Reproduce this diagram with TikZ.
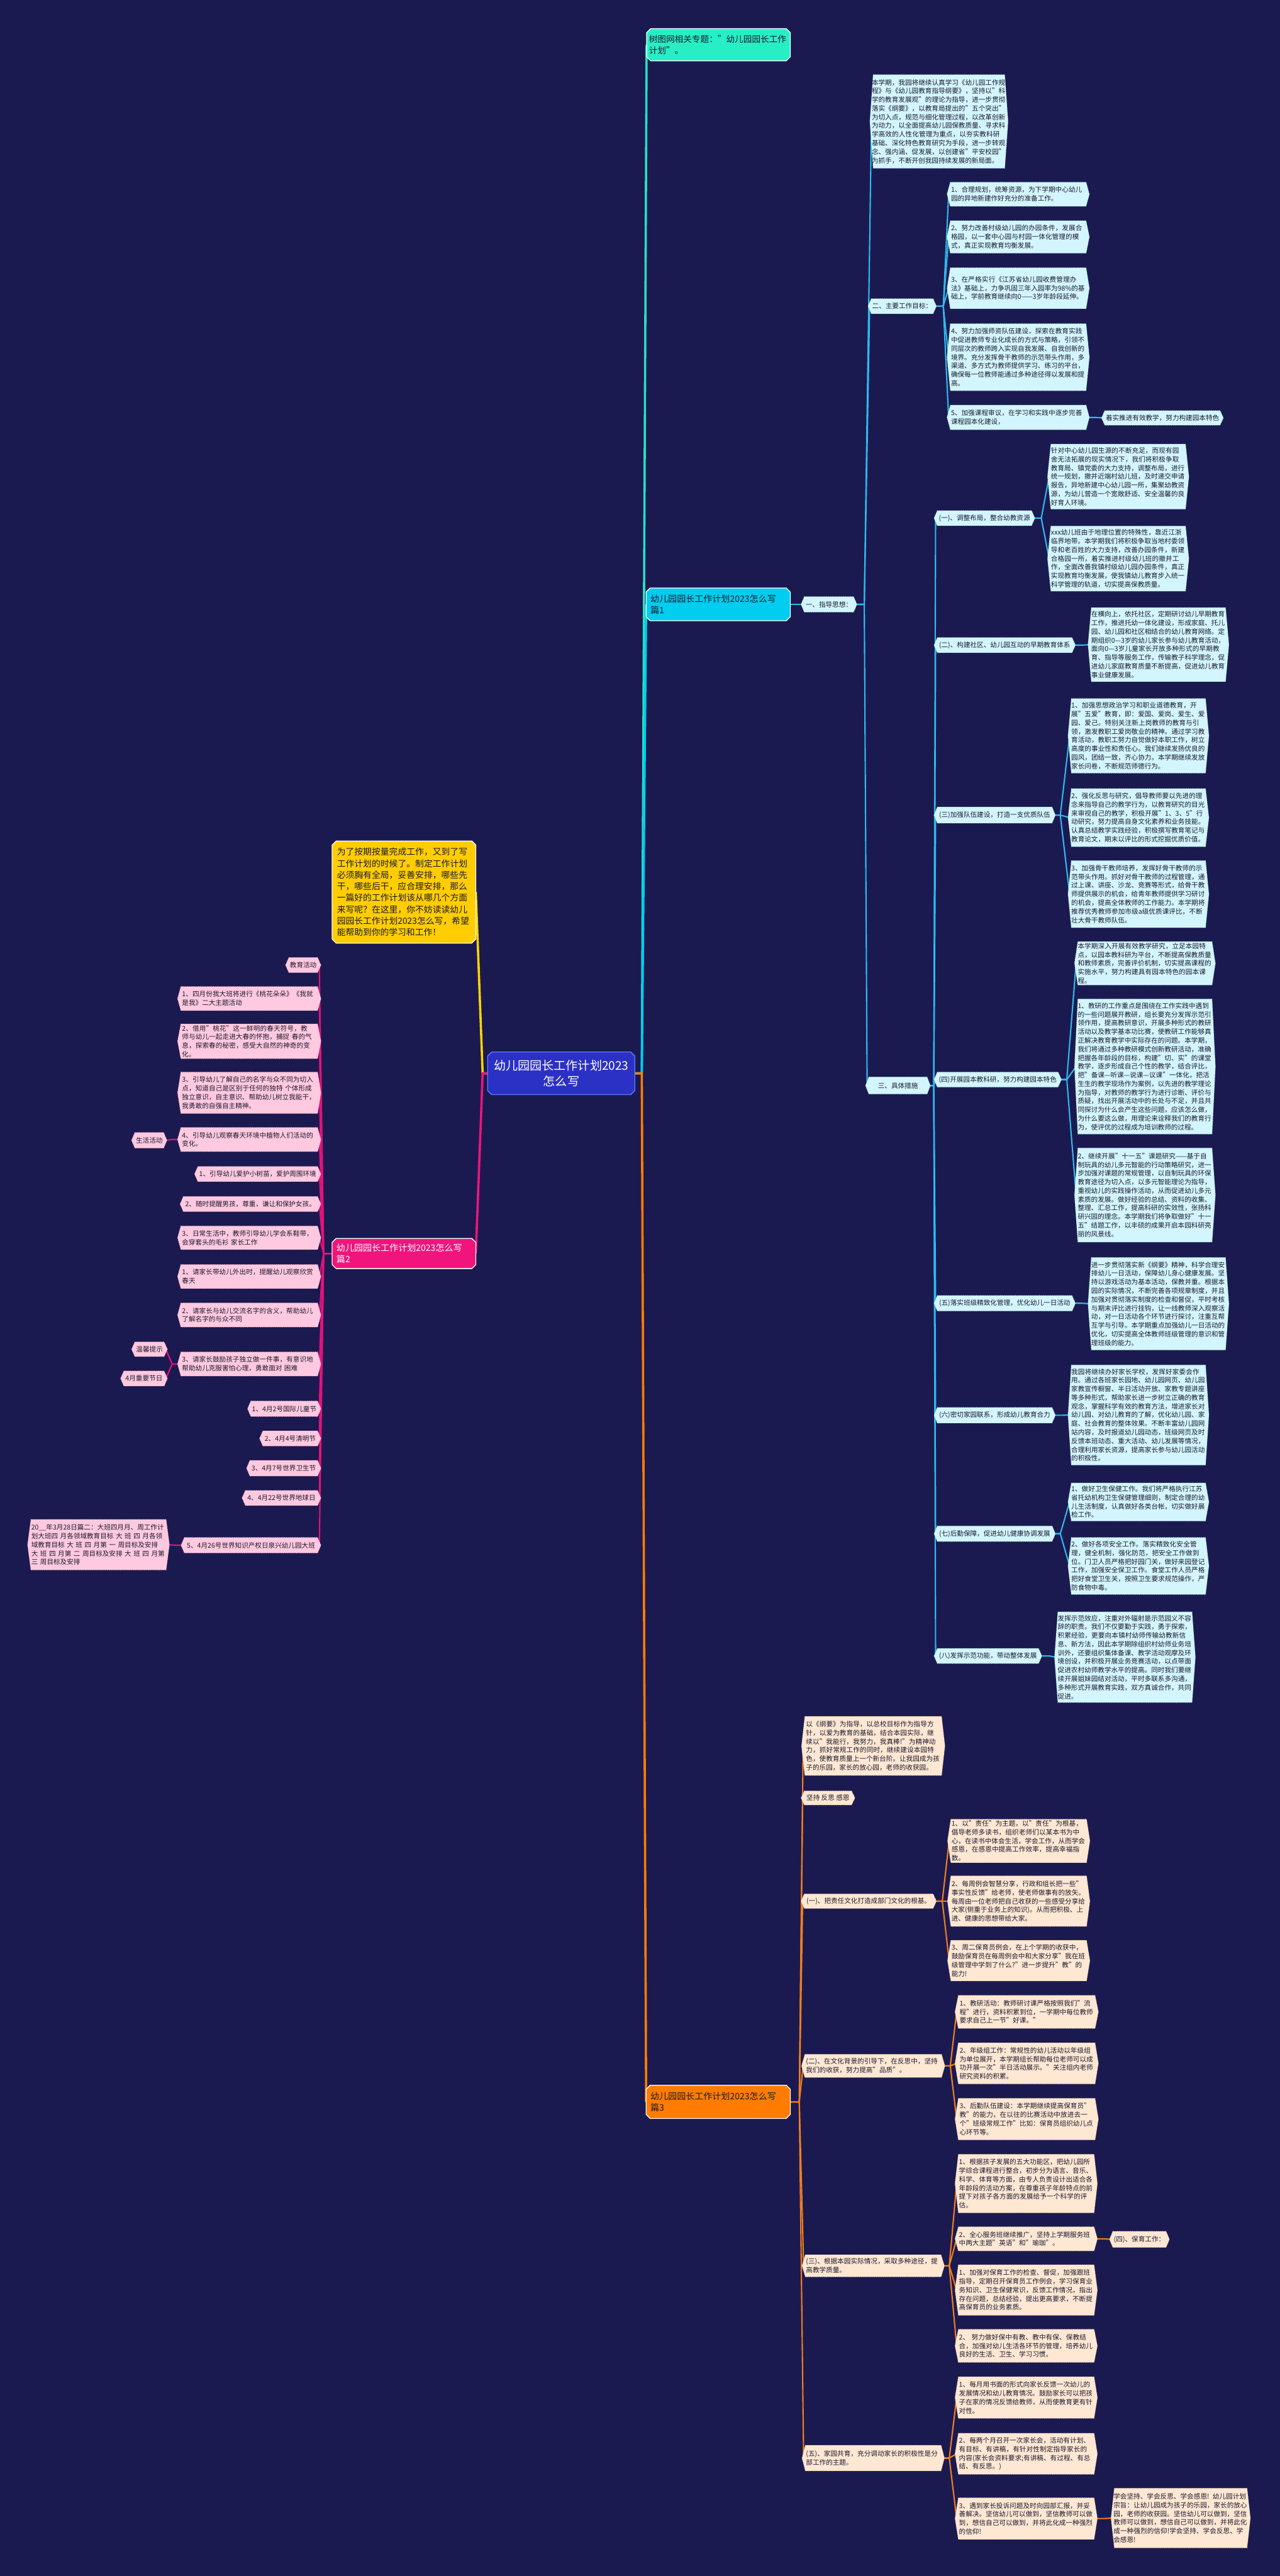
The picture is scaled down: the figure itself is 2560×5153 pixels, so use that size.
\documentclass[tikz,border=0pt]{standalone}
\usepackage{fontspec}
\setmainfont{Noto Sans CJK SC}
\XeTeXlinebreaklocale "zh"
\XeTeXlinebreakskip = 0pt plus 0.1pt
\usetikzlibrary{calc}
\pgfdeclarelayer{back}
\pgfdeclarelayer{lines}
\pgfdeclarelayer{boxes}
\pgfsetlayers{back,lines,boxes,main}
\definecolor{bgc}{HTML}{1B1A50}
\definecolor{ink}{HTML}{1A1A2E}
\definecolor{ctrfill}{HTML}{2B31C4}
\definecolor{ctredge}{HTML}{5A7BFF}
\definecolor{topfill}{HTML}{27EFC5}
\definecolor{bonefill}{HTML}{00CDEF}
\definecolor{yelfill}{HTML}{FFCD00}
\definecolor{btwofill}{HTML}{F0147C}
\definecolor{bthreefill}{HTML}{FF7C00}
\definecolor{cyfill}{HTML}{D3F5FD}
\definecolor{cyedge}{HTML}{8FCFE0}
\definecolor{pkfill}{HTML}{FFC9DF}
\definecolor{pkedge}{HTML}{E89BBB}
\definecolor{ogfill}{HTML}{FEE7D3}
\definecolor{ogedge}{HTML}{E3B48E}
\definecolor{cyln}{HTML}{2DB9EE}
\definecolor{pkln}{HTML}{E3117D}
\definecolor{ogln}{HTML}{F07D1F}
\definecolor{topln}{HTML}{27E0C0}
\definecolor{yelln}{HTML}{FFD400}
\newcommand\fs{\fontsize{4pt}{5.2pt}\selectfont}
\tikzset{
 kbase/.style={inner xsep=0pt, inner ysep=0.6pt, font=\fs, text=ink},
 kcy/.style={kbase}, kcy bg/.style={fill=cyfill, draw=cyedge, line width=0.3pt, densely dotted},
 kpk/.style={kbase}, kpk bg/.style={fill=pkfill, draw=pkedge, line width=0.3pt, densely dotted},
 kog/.style={kbase}, kog bg/.style={fill=ogfill, draw=ogedge, line width=0.3pt, densely dotted},
 kc/.style={inner ysep=0pt, font=\fontsize{7.2pt}{9.5pt}\selectfont, text=white, align=center},
 kc bg/.style={fill=ctrfill, draw=ctredge, line width=0.5pt},
 kt/.style={inner ysep=0pt, font=\fontsize{5.15pt}{6.8pt}\selectfont, text=ink, align=left},
 kt bg/.style={fill=topfill, draw=white, line width=0.5pt},
 ky/.style={inner ysep=0pt, font=\fontsize{5.2pt}{6.9pt}\selectfont, text=ink, align=left},
 ky bg/.style={fill=yelfill, draw=white, line width=0.5pt},
 k1/.style={inner ysep=0pt, font=\fontsize{5.3pt}{6.8pt}\selectfont, text=ink, align=left},
 k1 bg/.style={fill=bonefill, draw=white, line width=0.5pt},
 k2/.style={inner ysep=0pt, font=\fontsize{5.3pt}{6.8pt}\selectfont, text=white, align=left},
 k2 bg/.style={fill=btwofill, draw=white, line width=0.5pt},
 k3/.style={inner ysep=0pt, font=\fontsize{5.3pt}{6.8pt}\selectfont, text=ink, align=left},
 k3 bg/.style={fill=bthreefill, draw=white, line width=0.5pt},
 mainln/.style={line width=1.35pt},
 subln/.style={line width=0.8pt},
}
% octagon main node: name, kind, x1, y1, x2, y2, pad(pt), text
\newcommand\obx[8]{%
 \pgfmathsetmacro\bxw{(#5-#3)*0.3}%
 \pgfmathsetmacro\bxh{(#6-#4)*0.3}%
 \pgfmathsetmacro\bxt{(#5-#3)*0.3-2*#7}%
 \node[#2, inner xsep=#7pt, minimum width=\bxw pt, minimum height=\bxh pt, text width=\bxt pt] (#1) at ({(#3+#5)/2},{(#4+#6)/2}) {#8};%
 \begin{pgfonlayer}{boxes}%
 \path[#2 bg] ([xshift=2.4pt]#1.north west) -- ([xshift=-2.4pt]#1.north east) -- ([yshift=-2.4pt]#1.north east) -- ([yshift=2.4pt]#1.south east) -- ([xshift=-2.4pt]#1.south east) -- ([xshift=2.4pt]#1.south west) -- ([yshift=2.4pt]#1.south west) -- ([yshift=-2.4pt]#1.north west) -- cycle;%
 \end{pgfonlayer}%
}
% hexagon text block: name, kind, x1, y1, x2, y2, text
\newcommand\hbx[7]{%
 \pgfmathsetmacro\bxw{(#5-#3)*0.3}%
 \pgfmathsetmacro\bxh{(#6-#4)*0.3}%
 \node[#2, align=left, minimum width=\bxw pt, minimum height=\bxh pt, text width=80.6pt] (#1) at ({(#3+#5)/2},{(#4+#6)/2}) {#7};%
 \begin{pgfonlayer}{boxes}%
 \path[#2 bg] ([xshift=1pt]#1.north west) -- ([xshift=-1pt]#1.north east) -- ([xshift=1pt]#1.east) -- ([xshift=-1pt]#1.south east) -- ([xshift=1pt]#1.south west) -- ([xshift=-1pt]#1.west) -- cycle;%
 \end{pgfonlayer}%
}
% hexagon single line label
\newcommand\sbx[7]{%
 \pgfmathsetmacro\bxw{(#5-#3)*0.3}%
 \pgfmathsetmacro\bxh{(#6-#4)*0.3}%
 \node[#2, inner xsep=1.2pt, align=center, minimum width=\bxw pt, minimum height=\bxh pt] (#1) at ({(#3+#5)/2},{(#4+#6)/2}) {#7};%
 \begin{pgfonlayer}{boxes}%
 \path[#2 bg] ([xshift=1pt]#1.north west) -- ([xshift=-1pt]#1.north east) -- ([xshift=1pt]#1.east) -- ([xshift=-1pt]#1.south east) -- ([xshift=1pt]#1.south west) -- ([xshift=-1pt]#1.west) -- cycle;%
 \end{pgfonlayer}%
}
\newcommand\cR[4]{\draw[#4] (#1.east) -- ++(#3,0) -- (#2.west);}
\newcommand\cL[4]{\draw[#4] (#1.west) -- ++(-#3,0) -- (#2.east);}
\begin{document}
\begin{tikzpicture}[x=0.3pt,y=-0.3pt,line join=round,line cap=round]
\begin{pgfonlayer}{back}
\fill[bgc] (0,0) rectangle (2560,5153);
\end{pgfonlayer}
\useasboundingbox (0,0) rectangle (2560,5153);

% ---------- main nodes ----------
\obx{C}{kc}{976}{2105}{1269}{2189}{1}{幼儿园园长工作计划2023\\怎么写}
\obx{T}{kt}{1294}{58}{1580}{121}{1.2}{\mbox{树图网相关专题："幼儿园园长工作}\\计划"。}
\obx{Y}{ky}{665}{1683}{951}{1886}{2.7}{为了按期按量完成工作，又到了写工作计划的时候了。制定工作计划必须胸有全局，妥善安排，哪些先干，哪些后干，应合理安排，那么一篇好的工作计划该从哪几个方面来写呢？在这里，你不妨读读幼儿园园长工作计划2023怎么写，希望能帮助到你的学习和工作！}
\obx{B1}{k1}{1293}{1177}{1580}{1241}{2.4}{幼儿园园长工作计划2023怎么写\\篇1}
\obx{B2}{k2}{665}{2478}{951}{2537}{2.4}{幼儿园园长工作计划2023怎么写\\篇2}
\obx{B3}{k3}{1293}{4172}{1580}{4237}{2.4}{幼儿园园长工作计划2023怎么写\\篇3}

% ---------- branch 1 ----------
\sbx{G1}{kcy}{1606}{1194}{1710}{1224}{一、指导思想：}
\hbx{G1a}{kcy}{1744}{150}{2012}{336}{本学期，我园将继续认真学习《幼儿园工作规程》与《幼儿园教育指导纲要》，坚持以"科学的教育发展观"的理论为指导，进一步贯彻落实《纲要》，以教育局提出的"五个突出"为切入点，规范与细化管理过程，以改革创新为动力，以全面提高幼儿园保教质量、寻求科学高效的人性化管理为重点，以夯实教科研基础、深化特色教育研究为手段，进一步转观念、强内涵、促发展，以创建省"平安校园"为抓手，不断开创我园持续发展的新局面。}
\sbx{G2}{kcy}{1740}{598}{1869}{627}{二、主要工作目标：}
\hbx{G21}{kcy}{1898}{365}{2175}{412}{1、合理规划，统筹资源，为下学期中心幼儿园的异地新建作好充分的准备工作。}
\hbx{G22}{kcy}{1898}{442}{2175}{506}{2、努力改善村级幼儿园的办园条件，发展合格园，以一套中心园与村园一体化管理的模式，真正实现教育均衡发展。}
\hbx{G23}{kcy}{1898}{536}{2175}{617}{3、在严格实行《江苏省幼儿园收费管理办法》基础上，力争巩固三年入园率为98\%的基础上，学前教育继续向0——3岁年龄段延伸。}
\hbx{G24}{kcy}{1898}{648}{2175}{781}{4、努力加强师资队伍建设，探索在教育实践中促进教师专业化成长的方式与策略，引领不同层次的教师跨入实现自我发展、自我创新的境界。充分发挥骨干教师的示范带头作用，多渠道、多方式为教师提供学习、练习的平台，确保每一位教师能通过多种途径得以发展和提高。}
\hbx{G25}{kcy}{1898}{811}{2175}{859}{5、加强课程审议，在学习和实践中逐步完善课程园本化建设，}
\sbx{G25a}{kcy}{2207}{822}{2443}{850}{着实推进有效教学，努力构建园本特色}
\sbx{G3}{kcy}{1735}{2155}{1857}{2188}{三、具体措施}

\sbx{S1}{kcy}{1872}{1022}{2066}{1051}{(一)、调整布局，整合幼教资源}
\hbx{S1a}{kcy}{2099}{889}{2374}{1018}{针对中心幼儿园生源的不断充足，而现有园舍无法拓展的现实情况下，我们将积极争取教育局、镇党委的大力支持，调整布局，进行统一规划，撤并近端村幼儿班，及时递交申请报告，异地新建中心幼儿园一所，集聚幼教资源，为幼儿营造一个宽敞舒适、安全温馨的良好育人环境。}
\hbx{S1b}{kcy}{2099}{1053}{2374}{1182}{xxx幼儿班由于地理位置的特殊性，靠近江浙临界地带。本学期我们将积极争取当地村委领导和老百姓的大力支持，改善办园条件，新建合格园一所，着实推进村级幼儿班的撤并工作，全面改善我镇村级幼儿园办园条件，真正实现教育均衡发展，使我镇幼儿教育步入统一科学管理的轨道，切实提高保教质量。}
\sbx{S2}{kcy}{1872}{1276}{2147}{1305}{(二)、构建社区、幼儿园互动的早期教育体系}
\hbx{S2a}{kcy}{2180}{1216}{2454}{1363}{在横向上，依托社区，定期研讨幼儿早期教育工作，推进托幼一体化建设，形成家庭、托儿园、幼儿园和社区相结合的幼儿教育网络。定期组织0—3岁的幼儿家长参与幼儿教育活动，面向0—3岁儿童家长开放多种形式的早期教育、指导等服务工作，传输教子科学理念，促进幼儿家庭教育质量不断提高，促进幼儿教育事业健康发展。}
\sbx{S3}{kcy}{1872}{1615}{2107}{1646}{(三)加强队伍建设，打造一支优质队伍}
\hbx{S3a}{kcy}{2140}{1398}{2414}{1546}{1、加强思想政治学习和职业道德教育，开展"五爱"教育，即：爱国、爱岗、爱生、爱园、爱己。特别关注新上岗教师的教育与引领，激发教职工爱岗敬业的精神。通过学习教育活动，教职工努力自觉做好本职工作，树立高度的事业性和责任心。我们继续发扬优良的园风，团结一致，齐心协力。本学期继续发放家长问卷，不断规范师德行为。}
\hbx{S3b}{kcy}{2140}{1578}{2414}{1693}{2、强化反思与研究，倡导教师要以先进的理念来指导自己的教学行为，以教育研究的目光来审视自己的教学，积极开展"1、3、5"行动研究，努力提高自身文化素养和业务技能。认真总结教学实践经验，积极撰写教育笔记与教育论文，期末以评比的形式挖掘优质价值。}
\hbx{S3c}{kcy}{2140}{1722}{2414}{1855}{3、加强骨干教师培养，发挥好骨干教师的示范带头作用。抓好对骨干教师的过程管理，通过上课、讲座、沙龙、竞赛等形式，给骨干教师提供展示的机会，给青年教师提供学习研讨的机会，提高全体教师的工作能力。本学期将推荐优秀教师参加市级a级优质课评比，不断壮大骨干教师队伍。}
\sbx{S4}{kcy}{1872}{2145}{2119}{2174}{(四)开展园本教科研，努力构建园本特色}
\hbx{S4a}{kcy}{2153}{1886}{2427}{1968}{本学期深入开展有效教学研究，立足本园特点，以园本教科研为平台，不断提高保教质量和教师素质，完善评价机制，切实提高课程的实施水平，努力构建具有园本特色的园本课程。}
\hbx{S4b}{kcy}{2153}{1999}{2427}{2268}{1、教研的工作重点是围绕在工作实践中遇到的一些问题展开教研，组长要充分发挥示范引领作用，提高教研意识，开展多种形式的教研活动以及教学基本功比赛，使教研工作能够真正解决教育教学中实际存在的问题。本学期，我们将通过多种教研模式创新教研活动，准确把握各年龄段的目标，构建"切、实"的课堂教学，逐步形成自己个性的教学，结合评比，把"备课—听课—说课—议课"一体化，把活生生的教学现场作为案例，以先进的教学理论为指导，对教师的教学行为进行诊断、评价与质疑，找出开展活动中的长处与不足，并且共同探讨为什么会产生这些问题，应该怎么做，为什么要这么做，用理论来诠释我们的教育行为，使评优的过程成为培训教师的过程。}
\hbx{S4c}{kcy}{2153}{2297}{2427}{2484}{2、继续开展"十一五"课题研究——基于自制玩具的幼儿多元智能的行动策略研究，进一步加强对课题的常规管理，以自制玩具的环保教育途径为切入点，以多元智能理论为指导，重视幼儿的实践操作活动，从而促进幼儿多元素质的发展。做好经验的总结、资料的收集、整理、汇总工作，提高科研的实效性，张扬科研兴园的理念。本学期我们将争取做好"十一五"结题工作，以丰硕的成果开启本园科研亮丽的风景线。}
\sbx{S5}{kcy}{1872}{2592}{2147}{2622}{(五)落实班级精致化管理，优化幼儿一日活动}
\hbx{S5a}{kcy}{2180}{2516}{2454}{2700}{进一步贯彻落实新《纲要》精神，科学合理安排幼儿一日活动，保障幼儿身心健康发展。坚持以游戏活动为基本活动，保教并重。根据本园的实际情况，不断完善各项规章制度，并且加强对贯彻落实制度的检查和督促，平时考核与期末评比进行挂钩，让一线教师深入观察活动，对一日活动各个环节进行探讨，注重互帮互学与引导。本学期重点加强幼儿一日活动的优化，切实提高全体教师班级管理的意识和管理班级的能力。}
\sbx{S6}{kcy}{1872}{2816}{2107}{2846}{(六)密切家园联系，形成幼儿教育合力}
\hbx{S6a}{kcy}{2140}{2731}{2414}{2930}{我园将继续办好家长学校，发挥好家委会作用。通过各班家长园地、幼儿园网页、幼儿园家教宣传橱窗、半日活动开放、家教专题讲座等多种形式，帮助家长进一步树立正确的教育观念，掌握科学有效的教育方法，增进家长对幼儿园、对幼儿教育的了解，优化幼儿园、家庭、社会教育的整体效果。不断丰富幼儿园网站内容，及时报道幼儿园动态，班级网页及时反馈本班动态、重大活动、幼儿发展等情况，合理利用家长资源，提高家长参与幼儿园活动的积极性。}
\sbx{S7}{kcy}{1872}{3053}{2107}{3083}{(七)后勤保障，促进幼儿健康协调发展}
\hbx{S7a}{kcy}{2140}{2967}{2414}{3042}{1、做好卫生保健工作。我们将严格执行江苏省托幼机构卫生保健管理细则，制定合理的幼儿生活制度，认真做好各类台帐，切实做好晨检工作。}
\hbx{S7b}{kcy}{2140}{3076}{2414}{3189}{2、做好各项安全工作。落实精致化安全管理，健全机制，强化防范，把安全工作做到位。门卫人员严格把好园门关，做好来园登记工作，加强安全保卫工作。食堂工作人员严格把好食堂卫生关，按照卫生要求规范操作，严防食物中毒。}
\sbx{S8}{kcy}{1872}{3298}{2080}{3327}{(八)发挥示范功能，带动整体发展}
\hbx{S8a}{kcy}{2113}{3225}{2387}{3405}{发挥示范效应，注重对外辐射是示范园义不容辞的职责。我们不仅要勤于实践，勇于探索，积累经验，更要向本镇村幼师传输幼教新信息、新方法，因此本学期除组织村幼师业务培训外，还要组织集体备课、教学活动观摩及环境创设，并积极开展业务竞赛活动，以点带面促进农村幼师教学水平的提高。同时我们要继续开展姐妹园结对活动，平时多联系多沟通，多种形式开展教育实践，双方真诚合作，共同促进。}

% ---------- branch 3 ----------
\hbx{O1}{kog}{1607}{3434}{1886}{3551}{以《纲要》为指导，以总校目标作为指导方针，以爱为教育的基础，结合本园实际，继续以"我能行，我努力，我真棒!"为精神动力，抓好常规工作的同时，继续建设本园特色，使教育质量上一个新台阶。让我园成为孩子的乐园，家长的放心园，老师的收获园。}
\sbx{O2}{kog}{1606}{3583}{1706}{3610}{坚持 反思 感恩}
\sbx{O3}{kog}{1606}{3789}{1869}{3817}{(一)、把责任文化打造成部门文化的根基。}
\hbx{O3a}{kog}{1899}{3641}{2176}{3724}{1、以"责任"为主题，以"责任"为根基，倡导老师多读书，组织老师们以某本书为中心，在读书中体会生活，学会工作，从而学会感恩，在感恩中提高工作效率，提高幸福指数。}
\hbx{O3b}{kog}{1899}{3753}{2176}{3853}{2、每周例会智慧分享，行政和组长把一些"事实性反馈"给老师，使老师做事有的放矢。每周由一位老师把自己收获的一些感受分享给大家(侧重于业务上的知识)。从而把积极、上进、健康的思想带给大家。}
\hbx{O3c}{kog}{1899}{3882}{2176}{3962}{3、周二保育员例会，在上个学期的收获中，鼓励保育员在每周例会中和大家分享"我在班级管理中学到了什么?"进一步提升"教"的能力!}
\hbx{O4}{kog}{1607}{4110}{1886}{4155}{(二)、在文化背景的引导下，在反思中，坚持我们的收获，努力提高"品质"。}
\hbx{O4a}{kog}{1914}{3992}{2193}{4057}{1、教研活动：教师研讨课严格按照我们"流程"进行，资料积累到位，一学期中每位教师要求自己上一节"好课。"}
\hbx{O4b}{kog}{1914}{4087}{2193}{4168}{2、年级组工作：常规性的幼儿活动以年级组为单位展开，本学期组长帮助每位老师可以成功开展一次"半日活动展示。"关注组内老师研究资料的积累。}
\hbx{O4c}{kog}{1914}{4198}{2193}{4280}{3、后勤队伍建设：本学期继续提高保育员"教"的能力，在以往的比赛活动中放进去一个"班级常规工作"比如：保育员组织幼儿点心环节等。}
\hbx{O5}{kog}{1608}{4511}{1885}{4554}{(三)、根据本园实际情况，采取多种途径，提高教学质量。}
\hbx{O5a}{kog}{1914}{4310}{2191}{4426}{1、根据孩子发展的五大功能区，把幼儿园所学综合课程进行整合，初步分为语言、音乐、科学、体育等方面，由专人负责设计出适合各年龄段的活动方案，在尊重孩子年龄特点的前提下对孩子各方面的发展给予一个科学的评估。}
\hbx{O5b}{kog}{1914}{4455}{2191}{4502}{2、全心服务班继续推广，坚持上学期服务班中两大主题"英语"和"瑜珈"。}
\sbx{O5b1}{kog}{2223}{4464}{2335}{4495}{(四)、保育工作：}
\hbx{O5c}{kog}{1914}{4531}{2191}{4631}{1、加强对保育工作的检查、督促，加强跟班指导，定期召开保育员工作例会，学习保育业务知识、卫生保健常识，反馈工作情况，指出存在问题，总结经验，提出更高要求，不断提高保育员的业务素质。}
\hbx{O5d}{kog}{1914}{4660}{2191}{4725}{2、 努力做好保中有教、教中有保、保教结合，加强对幼儿生活各环节的管理，培养幼儿良好的生活、卫生、学习习惯。}
\hbx{O6}{kog}{1608}{4892}{1885}{4942}{(五)、家园共育，充分调动家长的积极性是分部工作的主题。}
\hbx{O6a}{kog}{1914}{4755}{2191}{4837}{1、每月用书面的形式向家长反馈一次幼儿的发展情况和幼儿教育情况。鼓励家长可以把孩子在家的情况反馈给教师，从而使教育更有针对性。}
\hbx{O6b}{kog}{1914}{4868}{2191}{4949}{2、每两个月召开一次家长会，活动有计划、有目标、有讲稿，有针对性制定指导家长的内容(家长会资料要求;有讲稿、有过程、有总结、有反思。)}
\hbx{O6c}{kog}{1914}{4997}{2191}{5079}{3、遇到家长投诉问题及时向园部汇报，并妥善解决。坚信幼儿可以做到，坚信教师可以做到，想信自己可以做到，并将此化成一种强烈的信仰!}
\hbx{O6c1}{kog}{2226}{4978}{2497}{5096}{学会坚持、学会反思、学会感恩! 幼儿园计划宗旨：让幼儿园成为孩子的乐园，家长的放心园，老师的收获园。坚信幼儿可以做到，坚信教师可以做到，想信自己可以做到，并将此化成一种强烈的信仰!学会坚持、学会反思、学会感恩!}

% ---------- branch 2 (left) ----------
\sbx{P1}{kpk}{575}{1916}{638}{1945}{教育活动}
\hbx{P2}{kpk}{359}{1974}{638}{2021}{1、四月份我大班将进行《桃花朵朵》《我就是我》二大主题活动}
\hbx{P3}{kpk}{359}{2051}{638}{2115}{2、借用"桃花"这一鲜明的春天符号，教师与幼儿一起走进大春的怀抱，捕捉 春的气息，探索春的秘密，感受大自然的神奇的变化。}
\hbx{P4}{kpk}{359}{2145}{638}{2227}{3、引导幼儿了解自己的名字与众不同为切入点，知道自己是区别于任何的独特 个体形成独立意识，自主意识、帮助幼儿树立我能干，我勇敢的自强自主精神。}
\hbx{P5}{kpk}{359}{2256}{638}{2303}{4、引导幼儿观察春天环境中植物人们活动的变化。}
\sbx{P5a}{kpk}{267}{2266}{330}{2296}{生活活动}
\sbx{P6}{kpk}{393}{2334}{638}{2363}{1、引导幼儿爱护小树苗，爱护周围环境}
\sbx{P7}{kpk}{364}{2394}{638}{2423}{2、随时提醒男孩，尊重，谦让和保护女孩。}
\hbx{P8}{kpk}{359}{2453}{638}{2499}{3、日常生活中，教师引导幼儿学会系鞋带，会穿套头的毛衫 家长工作}
\hbx{P9}{kpk}{359}{2530}{638}{2577}{1、请家长带幼儿外出时，提醒幼儿观察欣赏春天}
\hbx{P10}{kpk}{359}{2607}{638}{2654}{2、请家长与幼儿交流名字的含义，帮助幼儿了解名字的与众不同}
\hbx{P11}{kpk}{359}{2705}{638}{2752}{3、请家长鼓励孩子独立做一件事，有意识地帮助幼儿克服害怕心理，勇敢面对 困难}
\sbx{P11a}{kpk}{267}{2685}{331}{2713}{温馨提示}
\sbx{P11b}{kpk}{245}{2743}{331}{2772}{4月重要节日}
\sbx{P12}{kpk}{499}{2803}{638}{2833}{1、4月2号国际儿童节}
\sbx{P13}{kpk}{523}{2863}{638}{2892}{2、4月4号清明节}
\sbx{P14}{kpk}{497}{2922}{638}{2952}{3、4月7号世界卫生节}
\sbx{P15}{kpk}{488}{2982}{638}{3011}{4、4月22号世界地球日}
\sbx{P16}{kpk}{366}{3076}{638}{3106}{5、4月26号世界知识产权日泉兴幼儿园大班}
\hbx{P16a}{kpk}{59}{3040}{335}{3140}{20\_\_年3月28日篇二：大班四月月、周工作计\\划大班四 月各领域教育目标 大 班 四 月各领\\域教育目标 大 班 四 月第 一 周目标及安排\\大 班 四 月第 二 周目标及安排 大 班 四 月第\\ 三 周目标及安排}

% ---------- connectors ----------
\begin{pgfonlayer}{lines}
\cR{C}{T}{14}{mainln,topln}
\cR{C}{B1}{14}{mainln,bonefill}
\cR{C}{B3}{14}{mainln,bthreefill}
\cL{C}{Y}{10}{mainln,yelln}
\cL{C}{B2}{10}{mainln,btwofill}
% branch 1
\cR{B1}{G1}{13}{subln,cyln}
\foreach \k in {G1a,G2,G3} {\cR{G1}{\k}{18}{subln,cyln}}
\foreach \k in {G21,G22,G23,G24,G25} {\cR{G2}{\k}{17}{subln,cyln}}
\cR{G25}{G25a}{15}{subln,cyln}
\foreach \k in {S1,S2,S3,S4,S5,S6,S7,S8} {\cR{G3}{\k}{10}{subln,cyln}}
\foreach \k in {S1a,S1b} {\cR{S1}{\k}{16}{subln,cyln}}
\cR{S2}{S2a}{18}{subln,cyln}
\foreach \k in {S3a,S3b,S3c} {\cR{S3}{\k}{13}{subln,cyln}}
\foreach \k in {S4a,S4b,S4c} {\cR{S4}{\k}{14}{subln,cyln}}
\cR{S5}{S5a}{18}{subln,cyln}
\cR{S6}{S6a}{18}{subln,cyln}
\foreach \k in {S7a,S7b} {\cR{S7}{\k}{13}{subln,cyln}}
\cR{S8}{S8a}{18}{subln,cyln}
% branch 3
\foreach \k in {O1,O2,O3,O4,O5,O6} {\cR{B3}{\k}{18}{subln,ogln}}
\foreach \k in {O3a,O3b,O3c} {\cR{O3}{\k}{15}{subln,ogln}}
\foreach \k in {O4a,O4b,O4c} {\cR{O4}{\k}{14}{subln,ogln}}
\foreach \k in {O5a,O5b,O5c,O5d} {\cR{O5}{\k}{13}{subln,ogln}}
\cR{O5b}{O5b1}{16}{subln,ogln}
\foreach \k in {O6a,O6b,O6c} {\cR{O6}{\k}{13}{subln,ogln}}
\cR{O6c}{O6c1}{17}{subln,ogln}
% branch 2
\foreach \k in {P1,P2,P3,P4,P5,P6,P7,P8,P9,P10,P11,P12,P13,P14,P15,P16} {\cL{B2}{\k}{17}{subln,pkln}}
\cL{P5}{P5a}{14}{subln,pkln}
\cL{P11}{P11a}{14}{subln,pkln}
\cL{P11}{P11b}{14}{subln,pkln}
\cL{P16}{P16a}{16}{subln,pkln}
\end{pgfonlayer}
\end{tikzpicture}
\end{document}
